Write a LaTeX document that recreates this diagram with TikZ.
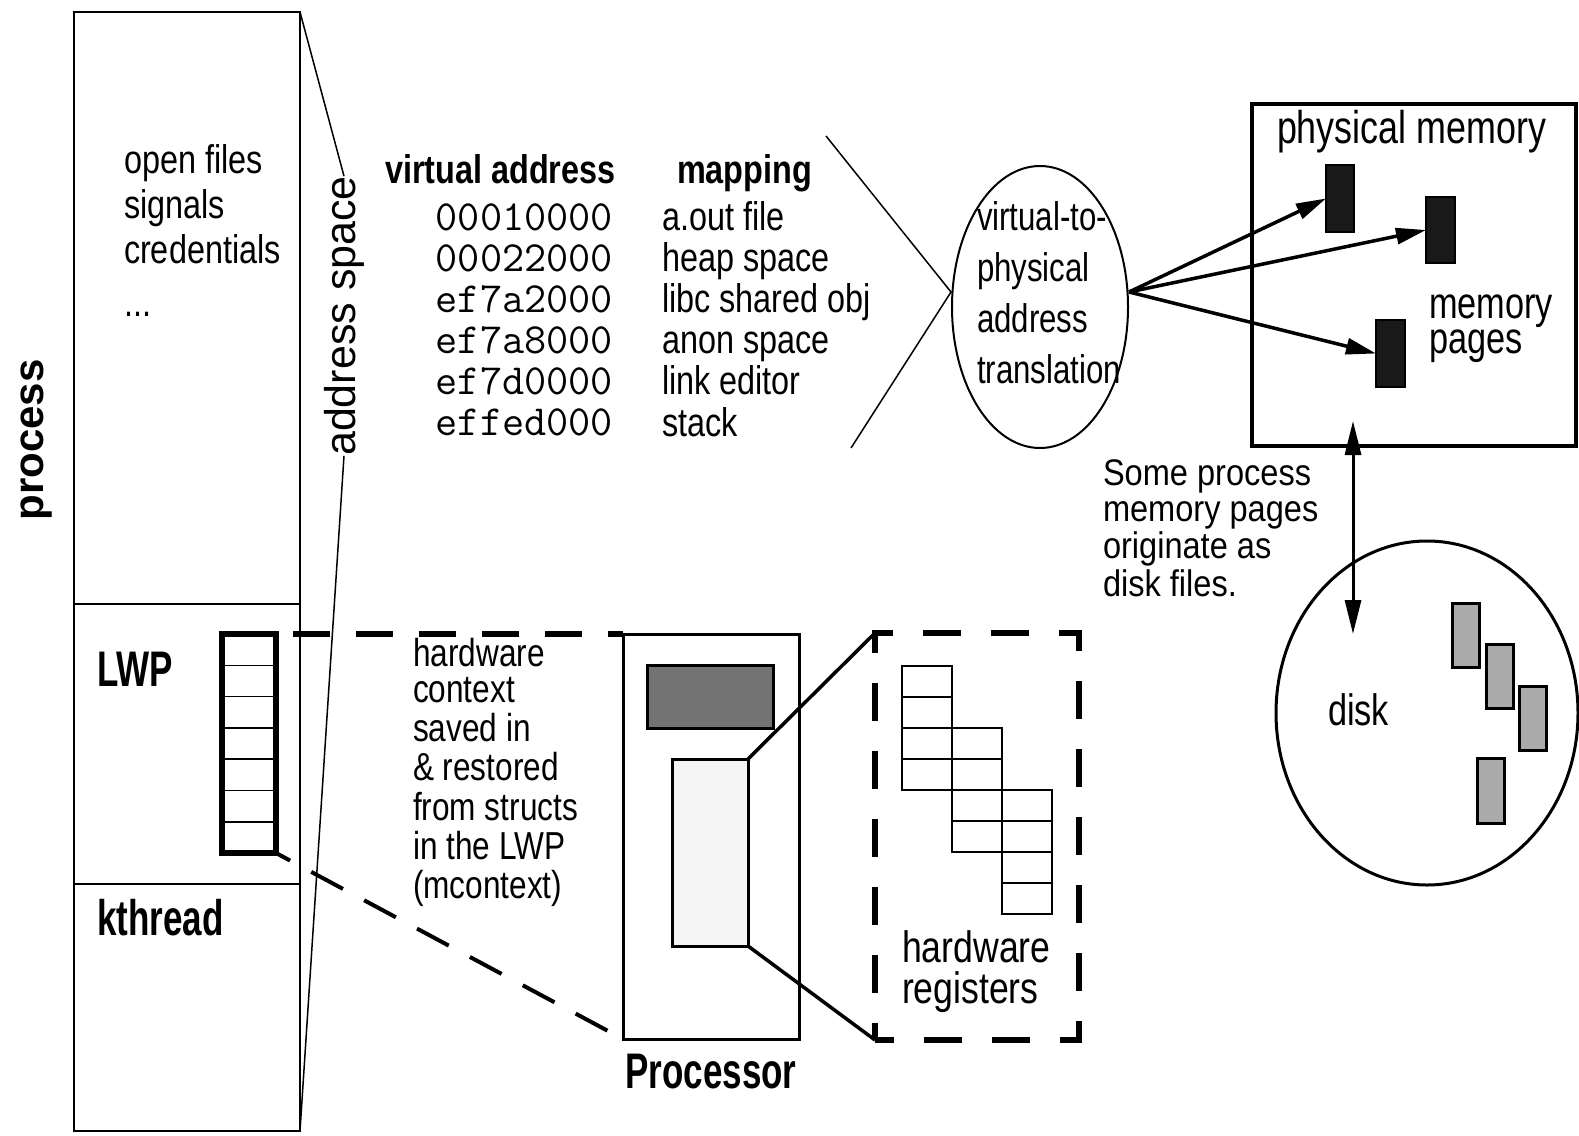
\documentclass[tikz,border=0pt]{standalone}
\usepackage{fontspec}
\setmainfont{Liberation Sans}
\newfontfamily\fS{Liberation Sans}
\newfontfamily\fT[FakeStretch=0.88]{Liberation Sans}
\newfontfamily\fA[FakeStretch=0.81]{Liberation Sans}
\newfontfamily\fN[FakeStretch=0.78]{Liberation Sans}
\newfontfamily\fL[FakeStretch=0.7]{Liberation Sans}
\usetikzlibrary{shapes.geometric,arrows.meta}
\begin{document}
\begin{tikzpicture}[x=1pt,y=-1pt,
  txt/.style={inner sep=0pt,outer sep=0pt,anchor=base west},
  rbox/.style={draw,inner sep=0pt,outer sep=0pt,anchor=north west},
  page/.style={rbox,fill=black!90,line width=2pt},
  dpage/.style={rbox,fill=black!33,line width=3pt,minimum width=27pt,minimum height=64pt},
  arr/.style={line width=3.5pt,-{Triangle[length=30pt,width=16pt]}},
  thin/.style={line width=1.5pt},
  cell/.style={line width=1.3pt}
]
\useasboundingbox (0,0) rectangle (1579,1135);
\fill[white] (0,0) rectangle (1579,1135);

% ---------- process column ----------
\node[rbox,line width=2pt,minimum width=226pt,minimum height=1119pt] (proc) at (74,12) {};
\draw[line width=2pt] (74,604) -- (300,604);
\draw[line width=2pt] (74,884) -- (300,884);
\node[rotate=90,inner sep=0pt,font=\fS\bfseries\fontsize{42}{44}\selectfont] (plabel) at (37,440) {process};
\node[txt,font=\fA\fontsize{40}{45}\selectfont] (attrs) at (124,173)
  {\begin{tabular}[t]{@{}l@{}}open files\\signals\\credentials\\[8pt]...\end{tabular}};
\node[txt,font=\fL\bfseries\fontsize{50}{50}\selectfont] (lwp) at (97,686) {LWP};
\node[txt,font=\fL\bfseries\fontsize{50}{50}\selectfont] (kth) at (97,935) {kthread};

% address space zoom lines
\node[rotate=90,inner sep=0pt,outer sep=0pt,font=\fS\fontsize{43}{46}\selectfont] (as) at (344,316) {address space};
\draw[thin] (proc.north east) -- (as.east);
\draw[thin] (as.west) -- (proc.south east);

% ---------- address table ----------
\node[txt,font=\fA\bfseries\fontsize{40}{40}\selectfont] (hva) at (385,183) {virtual address};
\node[txt,font=\fA\bfseries\fontsize{40}{40}\selectfont] (hmap) at (677,183) {mapping};
\node[inner sep=0pt,outer sep=0pt,anchor=base east,font=\ttfamily\fontsize{43}{41}\selectfont] (addrs) at (613,230)
  {\begin{tabular}[t]{@{}r@{}}00010000\\00022000\\ef7a2000\\ef7a8000\\ef7d0000\\effed000\end{tabular}};
\node[txt,font=\fA\fontsize{40}{41}\selectfont] (maps) at (662,230)
  {\begin{tabular}[t]{@{}l@{}}a.out file\\heap space\\libc shared obj\\anon space\\link editor\\stack\end{tabular}};

% ---------- translation ----------
\node[ellipse,draw,line width=2pt,minimum width=176pt,minimum height=282pt,inner sep=0pt] (ell) at (1040,307) {};
\draw[thin] (826,136) -- (951,292) -- (851,448);
\node[txt,font=\fN\fontsize{40}{51}\selectfont] (elltext) at (977,230)
  {\begin{tabular}[t]{@{}l@{}}virtual-to-\\physical\\address\\translation\end{tabular}};

% ---------- physical memory ----------
\node[rbox,line width=3.5pt,minimum width=324pt,minimum height=342pt] (pm) at (1252,104) {};
\node[txt,font=\fN\fontsize{46}{46}\selectfont] (pmlabel) at (1277,143) {physical memory};
\node[page,minimum width=28pt,minimum height=67pt] (pg1) at (1326,165) {};
\node[page,minimum width=29pt,minimum height=66pt] (pg2) at (1426,197) {};
\node[page,minimum width=29pt,minimum height=67pt] (pg3) at (1376,320) {};
\node[txt,font=\fN\fontsize{44}{35}\selectfont] (mplabel) at (1429,318)
  {\begin{tabular}[t]{@{}l@{}}memory\\pages\end{tabular}};
\draw[arr] ([yshift=15pt]ell.east) -- (pg1.west);
\draw[arr] ([yshift=15pt]ell.east) -- (pg2.west);
\draw[arr] ([yshift=15pt]ell.east) -- (pg3.west);

% ---------- disk ----------
\node[ellipse,draw,line width=3pt,minimum width=302pt,minimum height=344pt,inner sep=0pt] (disk) at (1427,713) {};
\node[txt,font=\fN\fontsize{44}{44}\selectfont] (disklabel) at (1328,725) {disk};
\node[dpage] (d1) at (1452,603) {};
\node[dpage] (d2) at (1486,644) {};
\node[dpage] (d3) at (1519,686) {};
\node[dpage,minimum height=65pt] (d4) at (1477,758) {};
\coordinate (dtop) at (1353,421);
\coordinate (dbot) at (1353,634);
\draw[line width=3pt,{Triangle[length=34pt,width=16pt]}-{Triangle[length=34pt,width=16pt]}] (dtop) -- (dbot);
\node[txt,font=\fT\fontsize{37}{36}\selectfont] (note) at (1103,485)
  {\begin{tabular}[t]{@{}l@{}}Some process\\memory pages\\originate as\\disk files.\end{tabular}};

% ---------- LWP stack ----------
\node[rbox,line width=6pt,minimum width=54pt,minimum height=219pt] (stack) at (222,634) {};
\foreach \i in {1,...,6} \draw[line width=1.5pt] (222,{634+\i*31.29}) -- (276,{634+\i*31.29});

% ---------- processor ----------
\node[rbox,line width=3pt,minimum width=176pt,minimum height=405pt] (cpu) at (623,634) {};
\node[rbox,line width=3pt,fill=black!55,minimum width=126pt,minimum height=63pt] (alu) at (647,665) {};
\node[rbox,line width=3pt,fill=black!4,minimum width=76pt,minimum height=187pt] (regs) at (672,759) {};
\node[txt,font=\fL\bfseries\fontsize{50}{50}\selectfont,anchor=base] (cpulabel) at (711,1088) {Processor};
\draw[line width=6pt,dash pattern=on 37pt off 26pt,dash phase=46pt] (stack.north east) -- (cpu.north west);
\draw[line width=4pt,dash pattern=on 36pt off 24pt,dash phase=20pt] (stack.south east) -- (cpu.south west);
\node[txt,font=\fA\fontsize{39}{36.5}\selectfont] (ctx) at (413,666)
  {\begin{tabular}[t]{@{}l@{}}hardware\\context\\saved in\\\& restored\\from structs\\in the LWP\\(mcontext)\end{tabular}};

% ---------- hardware registers ----------
\node[rbox,line width=6pt,dash pattern=on 38pt off 30pt,dash phase=19pt,minimum width=204pt,minimum height=407pt] (hw) at (875,633) {};
\draw[line width=3.5pt] (regs.north east) -- (hw.north west);
\draw[line width=3.5pt] (regs.south east) -- (hw.south west);
\foreach \c/\r in {0/0,0/1,0/2,0/3,1/2,1/3,1/4,1/5,2/4,2/5,2/6,2/7}
  \draw[cell] ({902+50*\c},{666+31*\r}) rectangle ++(50,31);
\node[txt,font=\fA\fontsize{44}{32}\selectfont] (hwlabel) at (902,962)
  {\begin{tabular}[t]{@{}l@{}}hardware\\registers\end{tabular}};
\end{tikzpicture}
\end{document}
